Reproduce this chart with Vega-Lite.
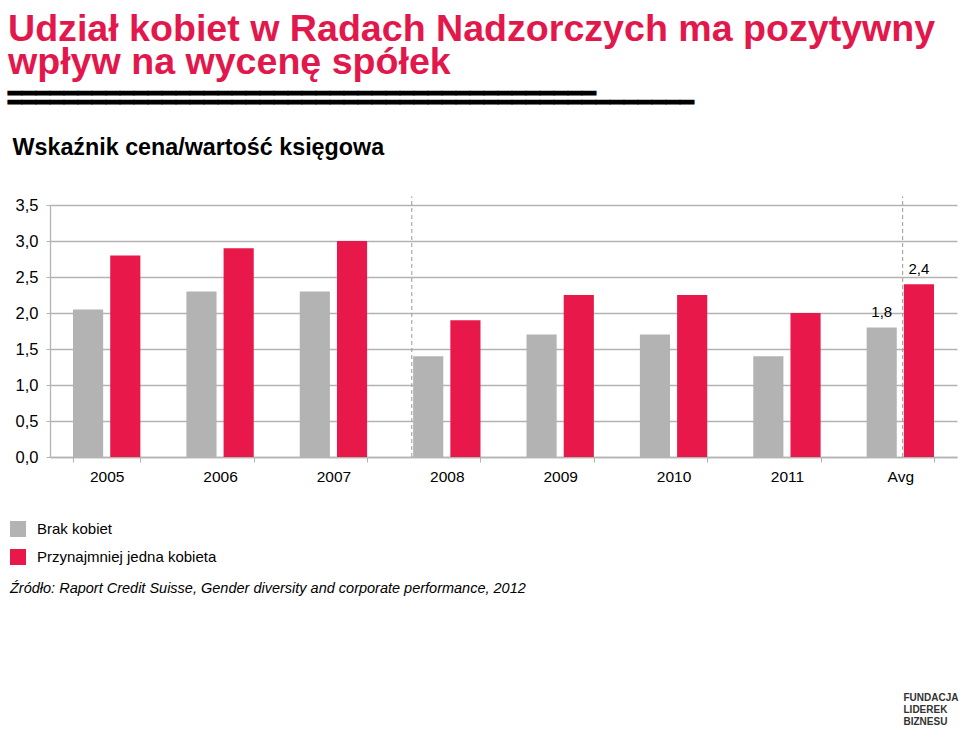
{
  "$schema": "https://vega.github.io/schema/vega-lite/v6.json",
  "autosize": {"type": "none"},
  "width": 907,
  "height": 252,
  "padding": {"left": 50, "top": 205, "right": 3, "bottom": 272},
  "background": "white",
  "config": {
    "locale": {"number": {"decimal": ",", "thousands": " ", "grouping": [3], "currency": ["", " zł"]}},
    "font": "Liberation Sans",
    "view": {"stroke": null}
  },
  "title": {
    "text": ["Udział kobiet w Radach Nadzorczych ma pozytywny", "wpływ na wycenę spółek"],
    "subtitle": ["━━━━━━━━━━━━━━━━━━━━━━━━━━━━━━━━━━━━━━━━━━", "━━━━━━━━━━━━━━━━━━━━━━━━━━━━━━━━━━━━━━━━━━━━━━━━━"],
    "anchor": "start",
    "frame": "group",
    "dx": -42,
    "offset": 21,
    "font": "Liberation Sans",
    "fontSize": 37.6,
    "fontWeight": "bold",
    "lineHeight": 33.5,
    "color": "#e2184c",
    "subtitleFont": "Liberation Sans",
    "subtitleFontSize": 23.3,
    "subtitleFontWeight": "bold",
    "subtitleLineHeight": 8.3,
    "subtitleColor": "#000000",
    "subtitlePadding": 1.5
  },
  "datasets": {
    "bars": [
      {"category": "2005", "group": "Brak kobiet", "value": 2.05},
      {"category": "2005", "group": "Przynajmniej jedna kobieta", "value": 2.8},
      {"category": "2006", "group": "Brak kobiet", "value": 2.3},
      {"category": "2006", "group": "Przynajmniej jedna kobieta", "value": 2.9},
      {"category": "2007", "group": "Brak kobiet", "value": 2.3},
      {"category": "2007", "group": "Przynajmniej jedna kobieta", "value": 3.0},
      {"category": "2008", "group": "Brak kobiet", "value": 1.4},
      {"category": "2008", "group": "Przynajmniej jedna kobieta", "value": 1.9},
      {"category": "2009", "group": "Brak kobiet", "value": 1.7},
      {"category": "2009", "group": "Przynajmniej jedna kobieta", "value": 2.25},
      {"category": "2010", "group": "Brak kobiet", "value": 1.7},
      {"category": "2010", "group": "Przynajmniej jedna kobieta", "value": 2.25},
      {"category": "2011", "group": "Brak kobiet", "value": 1.4},
      {"category": "2011", "group": "Przynajmniej jedna kobieta", "value": 2.0},
      {"category": "Avg", "group": "Brak kobiet", "value": 1.8},
      {"category": "Avg", "group": "Przynajmniej jedna kobieta", "value": 2.4}
    ],
    "dividers": [
      {"category": "2008", "value": 0, "top": 3.62},
      {"category": "Avg", "value": 0, "top": 3.62}
    ]
  },
  "encoding": {
    "x": {
      "field": "category",
      "type": "nominal",
      "sort": null,
      "scale": {"domain": ["2005", "2006", "2007", "2008", "2009", "2010", "2011", "Avg"], "paddingInner": 0.406, "paddingOuter": 0.203},
      "axis": {
        "labelAngle": 0,
        "labelFontSize": 15.5,
        "labelColor": "#000000",
        "labelPadding": 7,
        "tickBand": "extent",
        "tickSize": 5,
        "tickColor": "#b3b3b3",
        "domainColor": "#b3b3b3",
        "domainWidth": 1.3,
        "grid": false,
        "title": ["FUNDACJA", "LIDEREK", "BIZNESU"],
        "titleX": 853,
        "titleY": 243,
        "titleAlign": "left",
        "titleBaseline": "alphabetic",
        "titleFontSize": 10,
        "titleFontWeight": "bold",
        "titleColor": "#333333",
        "titleLineHeight": 12
      }
    },
    "y": {
      "field": "value",
      "type": "quantitative",
      "scale": {"domain": [0, 3.5], "nice": false},
      "axis": {
        "values": [0, 0.5, 1, 1.5, 2, 2.5, 3, 3.5],
        "format": ".1f",
        "labelOverlap": false,
        "labelFontSize": 16.5,
        "labelColor": "#000000",
        "labelPadding": 8,
        "tickSize": 4,
        "tickColor": "#b3b3b3",
        "domainColor": "#b3b3b3",
        "domainWidth": 1.3,
        "grid": true,
        "gridColor": "#b3b3b3",
        "gridWidth": 1.3,
        "title": "Wskaźnik cena/wartość księgowa",
        "titleAngle": 0,
        "titleX": -38,
        "titleY": -51,
        "titleAlign": "left",
        "titleBaseline": "alphabetic",
        "titleFontSize": 23.3,
        "titleFontWeight": "bold",
        "titleColor": "#000000",
        "titleLimit": 0
      }
    }
  },
  "layer": [
    {
      "data": {"name": "bars"},
      "mark": {"type": "bar"},
      "encoding": {
        "xOffset": {
          "field": "group",
          "type": "nominal",
          "scale": {"domain": ["Brak kobiet", "Przynajmniej jedna kobieta"], "paddingInner": 0.19, "paddingOuter": 0}
        },
        "color": {
          "field": "group",
          "type": "nominal",
          "scale": {"domain": ["Brak kobiet", "Przynajmniej jedna kobieta"], "range": ["#b3b3b3", "#e8184b"]},
          "legend": {
            "title": "Źródło: Raport Credit Suisse, Gender diversity and corporate performance, 2012",
            "titleOrient": "bottom",
            "titleAnchor": "start",
            "titleFontSize": 14.5,
            "titleFontStyle": "italic",
            "titleFontWeight": "normal",
            "titleColor": "#000000",
            "titleLimit": 0,
            "titlePadding": 17,
            "orient": "none",
            "legendX": -40,
            "legendY": 316,
            "direction": "vertical",
            "symbolType": "square",
            "symbolSize": 256,
            "symbolStrokeWidth": 0,
            "labelFontSize": 15,
            "labelColor": "#000000",
            "labelOffset": 11,
            "labelLimit": 0,
            "rowPadding": 12
          }
        }
      }
    },
    {
      "data": {"name": "bars"},
      "transform": [{"filter": "datum.category === 'Avg'"}],
      "mark": {"type": "text", "dy": -15, "fontSize": 15, "color": "#000000", "baseline": "middle"},
      "encoding": {
        "xOffset": {"field": "group", "type": "nominal"},
        "text": {"field": "value", "type": "quantitative", "format": ".1f"}
      }
    },
    {
      "data": {"name": "dividers"},
      "transform": [{"filter": "datum.category === '2008'"}],
      "mark": {"type": "rule", "color": "#9a9a9a", "strokeDash": [4, 3], "strokeWidth": 1},
      "encoding": {
        "x": {"field": "category", "type": "nominal", "sort": null, "bandPosition": -0.02},
        "y2": {"field": "top"}
      }
    },
    {
      "data": {"name": "dividers"},
      "transform": [{"filter": "datum.category === 'Avg'"}],
      "mark": {"type": "rule", "color": "#9a9a9a", "strokeDash": [4, 3], "strokeWidth": 1},
      "encoding": {
        "x": {"field": "category", "type": "nominal", "sort": null, "bandPosition": 0.535},
        "y2": {"field": "top"}
      }
    }
  ]
}
